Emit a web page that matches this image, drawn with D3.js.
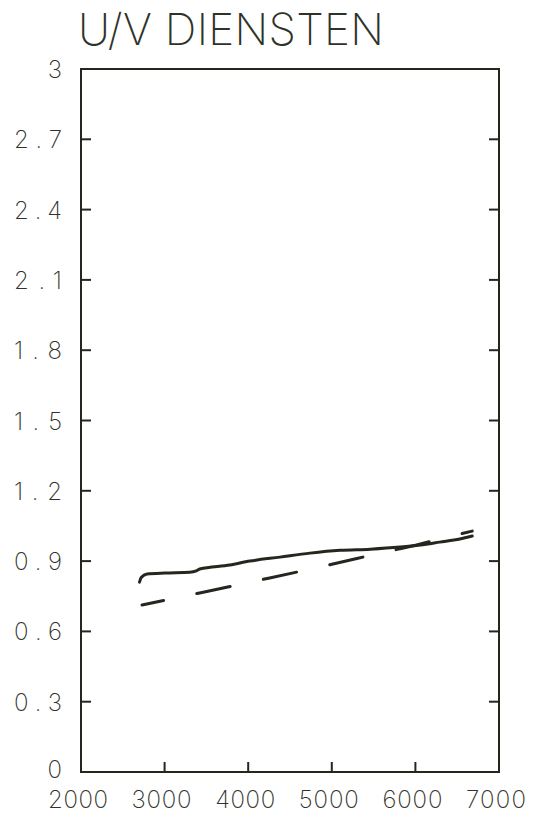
<!DOCTYPE html>
<html>
<head>
<meta charset="utf-8">
<script src="https://cdn.jsdelivr.net/npm/d3@7"></script>
<style>
  html, body { margin: 0; padding: 0; background: #ffffff; }
  svg { display: block; }
  text { font-family: Inter, "DejaVu Sans", sans-serif; font-weight: 200; fill: #2e3229; }
</style>
</head>
<body>
<svg id="chart" width="534" height="813"></svg>
<script>
// ---- data ----
const title = "U/V DIENSTEN";
const xTicks = [2000, 3000, 4000, 5000, 6000, 7000];
const yTicks = [0, 0.3, 0.6, 0.9, 1.2, 1.5, 1.8, 2.1, 2.4, 2.7, 3];
const yTickLabels = ["0", "0.3", "0.6", "0.9", "1.2", "1.5", "1.8", "2.1", "2.4", "2.7", "3"];

// solid series
const solidX = [2700, 2720, 2790, 3005, 3300, 3380, 3420, 3780, 4020, 4380, 4740, 5100, 5460, 5820, 6060, 6290, 6530, 6680];
const solidY = [0.810, 0.830, 0.845, 0.849, 0.852, 0.858, 0.866, 0.883, 0.900, 0.917, 0.934, 0.946, 0.951, 0.960, 0.969, 0.981, 0.994, 1.007];

// dashed series
const dashX = [2730, 3420, 4140, 4860, 5580, 6060, 6290, 6680];
const dashY = [0.713, 0.764, 0.819, 0.875, 0.934, 0.973, 0.994, 1.028];

// ---- layout ----
const svg = d3.select("#chart");
const mLeft = 81, mRight = 499, mTop = 69, mBottom = 772;
const ink = "#23271e";

const x = d3.scaleLinear().domain([2000, 7000]).range([mLeft, mRight]);
const y = d3.scaleLinear().domain([0, 3]).range([mBottom, mTop]);

// frame
svg.append("rect")
  .attr("x", mLeft).attr("y", mTop)
  .attr("width", mRight - mLeft).attr("height", mBottom - mTop)
  .attr("fill", "none").attr("stroke", ink).attr("stroke-width", 2);

// inner ticks: left, right, bottom
const innerY = yTicks.filter(v => v > 0 && v < 3);
const innerX = xTicks.filter(v => v > 2000 && v < 7000);
const tickLen = 10;

svg.append("g").selectAll("line").data(innerY).join("line")
  .attr("x1", mLeft).attr("x2", mLeft + tickLen)
  .attr("y1", d => y(d)).attr("y2", d => y(d))
  .attr("stroke", ink).attr("stroke-width", 2);
svg.append("g").selectAll("line").data(innerY).join("line")
  .attr("x1", mRight - tickLen).attr("x2", mRight)
  .attr("y1", d => y(d)).attr("y2", d => y(d))
  .attr("stroke", ink).attr("stroke-width", 2);
svg.append("g").selectAll("line").data(innerX).join("line")
  .attr("x1", d => x(d)).attr("x2", d => x(d))
  .attr("y1", mBottom - tickLen).attr("y2", mBottom)
  .attr("stroke", ink).attr("stroke-width", 2);

// y labels
svg.append("g").selectAll("text").data(yTicks).join("text")
  .attr("x", 62)
  .attr("y", d => d === 0 ? y(d) + 6 : y(d) + 9)
  .attr("text-anchor", "end")
  .attr("font-size", 24)
  .each(function(d, i) {
    const t = d3.select(this).text(yTickLabels[i]);
    if (yTickLabels[i].length > 1) t.attr("textLength", 48).attr("lengthAdjust", "spacing");
  });

// x labels
svg.append("g").selectAll("text").data(xTicks).join("text")
  .attr("x", d => x(d) - 3)
  .attr("y", 808)
  .attr("text-anchor", "middle")
  .attr("font-size", 24)
  .attr("textLength", 60)
  .attr("lengthAdjust", "spacing")
  .text(d => d);

// title
svg.append("text")
  .attr("x", 78).attr("y", 45)
  .attr("font-size", 44)
  .attr("textLength", 306)
  .attr("lengthAdjust", "spacing")
  .attr("fill", "#3a3e34")
  .text(title);

// lines
const line = d3.line().x(d => x(d[0])).y(d => y(d[1])).curve(d3.curveMonotoneX);

svg.append("path")
  .datum(solidX.map((v, i) => [v, solidY[i]]))
  .attr("d", line)
  .attr("fill", "none").attr("stroke", ink).attr("stroke-width", 3)
  .attr("stroke-linecap", "round");

svg.append("path")
  .datum(dashX.map((v, i) => [v, dashY[i]]))
  .attr("d", line)
  .attr("fill", "none").attr("stroke", ink).attr("stroke-width", 3)
  .attr("stroke-dasharray", "34,34")
  .attr("stroke-dashoffset", 12)
  .attr("stroke-linecap", "round");
</script>
</body>
</html>
